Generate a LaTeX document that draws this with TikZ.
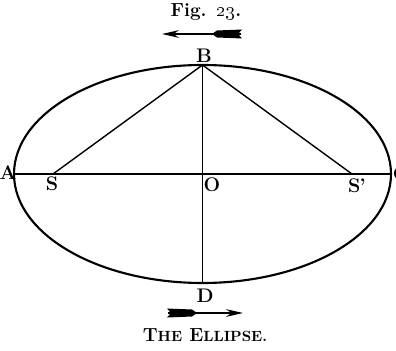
\documentclass[tikz,border=0pt]{standalone}
\usetikzlibrary{arrows.meta}

\begin{document}
\begin{tikzpicture}[
  x=0.025cm,y=0.025cm,
  curve/.style={draw=black,line width=1.5pt},
  ln/.style={draw=black,line width=1pt},
  lbl/.style={font=\fontsize{14}{16}\selectfont\bfseries,inner sep=0pt},
  ttl/.style={font=\fontsize{13.5}{15}\selectfont\bfseries,inner sep=0pt},
  shaft/.style={draw=black,line width=1.1pt,-{Stealth[length=4.2mm,width=1.9mm,inset=1.3mm]}},
  fletch/.style={fill=black}]

\clip (0,0) rectangle (396,350);

% ------------------------------- ellipse ----------------------------------
\coordinate (O)  at (202.5,176);
\coordinate (A)  at (14,176);
\coordinate (C)  at (391,176);
\coordinate (B)  at (202.5,285);
\coordinate (D)  at (202.5,67);
\coordinate (S)  at (53,176);
\coordinate (Sp) at (352,176);
\draw[curve] (O) ellipse [x radius=188.5,y radius=109];
\draw[ln] (A) -- (C);
\draw[ln] (B) -- (D);
\draw[ln] (S) -- (B) -- (Sp);

% ------------------------------- letters ----------------------------------
\node[lbl] (lA)  at (8,177)   {A};
\node[lbl] (lC)  at (401,176) {C};
\node[lbl] (lB)  at (204,294) {B};
\node[lbl] (lD)  at (205,54)  {D};
\node[lbl] (lS)  at (52,166)  {S};
\node[lbl] (lSp) at (357,164) {S\kern-0.5pt\textquoteright};
\node[lbl] (lO)  at (212,165) {O};

% ------------------------------- arrows -----------------------------------
% upper one points to the left, lower one to the right
\coordinate (th) at (162,316);
\coordinate (tt) at (241,316);
\draw[shaft] (tt) -- (th);
\begin{scope}[shift={(tt)}]
  \fill[fletch] (1,4.5) -- (-3,0) -- (1,-4.5) -- (-24,-3.5) -- (-29,0) -- (-24,3.5) -- cycle;
\end{scope}
\coordinate (bt) at (168,37);
\coordinate (bh) at (243,37);
\draw[shaft] (bt) -- (bh);
\begin{scope}[shift={(bt)},xscale=-1]
  \fill[fletch] (1,4.5) -- (-3,0) -- (1,-4.5) -- (-24,-3.5) -- (-29,0) -- (-24,3.5) -- cycle;
\end{scope}

% ------------------------------- titles -----------------------------------
\node[ttl] (fig) at (206,338) {Fig. \oldstylenums{23}.};
\node[ttl] (cap) at (205,15)
  {T{\fontsize{10.5}{12}\selectfont HE} E{\fontsize{10.5}{12}\selectfont LLIPSE.}};
\end{tikzpicture}
\end{document}
